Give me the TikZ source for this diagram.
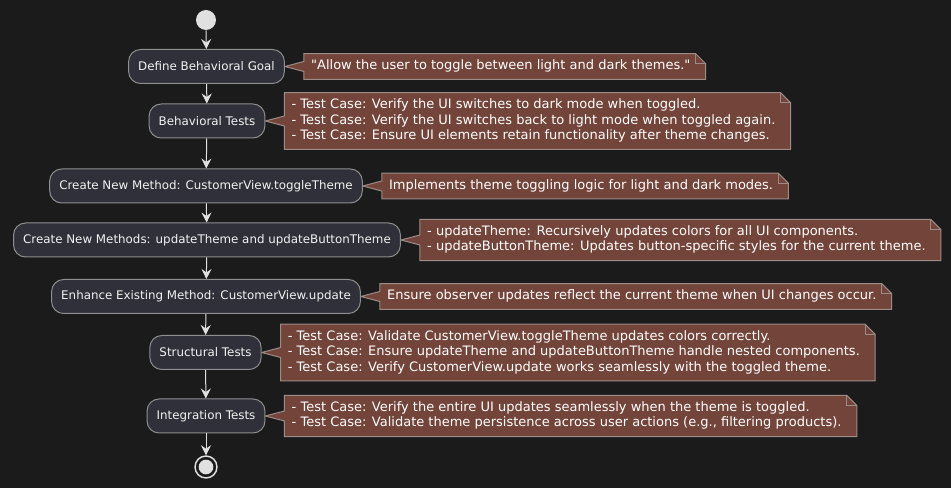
\documentclass[tikz,border=0pt]{standalone}
\usepackage{fontspec}
\setmainfont{DejaVu Sans}[Ligatures=TeXOff]
\usetikzlibrary{arrows.meta,calc}
\definecolor{bgc}{HTML}{1B1B1C}
\definecolor{actfill}{HTML}{2F3039}
\definecolor{actline}{HTML}{8F8F8F}
\definecolor{notefill}{HTML}{73443A}
\definecolor{noteline}{HTML}{9C8C88}
\definecolor{txt}{HTML}{F2F2F2}
\definecolor{flow}{HTML}{E0E0E0}
\pgfdeclarelayer{back}
\pgfdeclarelayer{notes}
\pgfsetlayers{back,notes,main}
\newcommand\drawnote[2]{%
  \begin{pgfonlayer}{notes}
  \coordinate (#1ne) at ($(#1.north east)+(8,0)$);
  \coordinate (#1se) at ($(#1.south east)+(8,0)$);
  \path[notebody] (#1.north west) -- ($(#1ne)+(-10,0)$) -- ($(#1ne)+(0,10)$) -- (#1se) -- (#1.south west)
     -- ($(#1.west |- #2.east)+(0,5)$) -- (#2.east) -- ($(#1.west |- #2.east)+(0,-5)$) -- cycle;
  \draw[draw=noteline, line width=0.75pt] ($(#1ne)+(-10,0)$) -- ($(#1ne)+(-10,10)$) -- ($(#1ne)+(0,10)$);
  \end{pgfonlayer}}
\begin{document}
\begin{tikzpicture}[x=0.75pt,y=-0.75pt,
  act/.style={draw=actline, line width=0.75pt, fill=actfill, rounded corners=9pt, text=txt,
    font=\fontsize{8.9}{11}\selectfont, minimum height=25.5pt, inner xsep=7.2pt, inner ysep=0pt},
  notetext/.style={anchor=west, text=white, font=\fontsize{9.75}{11.6}\selectfont, align=left,
    inner xsep=5.25pt, inner ysep=3.6pt},
  notebody/.style={fill=notefill, draw=noteline, line width=0.75pt},
  flowarrow/.style={draw=flow, line width=0.75pt, -{Stealth[length=7.5pt,width=7.5pt,inset=2.6pt]}},
]
\begin{pgfonlayer}{back}
\fill[bgc] (0,0) rectangle (951,488);
\end{pgfonlayer}
\useasboundingbox (0,0) rectangle (951,488);

\node[circle, fill=flow, minimum size=15pt, inner sep=0pt] (start) at (206,20) {};

\node[act] (a1) at (206.5,66.5) {Define Behavioral Goal};
\node[act] (a2) at (207,121) {Behavioral Tests};
\node[act] (a3) at (206,186) {Create New Method: CustomerView.toggleTheme};
\node[act] (a4) at (207,240) {Create New Methods: updateTheme and updateButtonTheme};
\node[act] (a5) at (206,296.5) {Enhance Existing Method: CustomerView.update};
\node[act] (a6) at (205.5,352.5) {Structural Tests};
\node[act] (a7) at (206,416) {Integration Tests};

\node[circle, draw=flow, line width=1.1pt, minimum size=16.5pt, inner sep=0pt] (stop) at (206,467) {};
\node[circle, fill=flow, minimum size=11pt, inner sep=0pt] (stopdot) at (stop.center) {};

\node[notetext] (n1) at ($(a1.east)+(19,0)$) {\strut"Allow the user to toggle between light and dark themes."};
\node[notetext] (n2) at ($(a2.east)+(19,0)$) {\strut- Test Case: Verify the UI switches to dark mode when toggled.\\\strut- Test Case: Verify the UI switches back to light mode when toggled again.\\\strut- Test Case: Ensure UI elements retain functionality after theme changes.};
\node[notetext] (n3) at ($(a3.east)+(19,0)$) {\strut Implements theme toggling logic for light and dark modes.};
\node[notetext] (n4) at ($(a4.east)+(19,0)$) {\strut- updateTheme: Recursively updates colors for all UI components.\\\strut- updateButtonTheme: Updates button-specific styles for the current theme.};
\node[notetext] (n5) at ($(a5.east)+(19,0)$) {\strut Ensure observer updates reflect the current theme when UI changes occur.};
\node[notetext] (n6) at ($(a6.east)+(19,0)$) {\strut- Test Case: Validate CustomerView.toggleTheme updates colors correctly.\\\strut- Test Case: Ensure updateTheme and updateButtonTheme handle nested components.\\\strut- Test Case: Verify CustomerView.update works seamlessly with the toggled theme.};
\node[notetext] (n7) at ($(a7.east)+(19,0)$) {\strut- Test Case: Verify the entire UI updates seamlessly when the theme is toggled.\\\strut- Test Case: Validate theme persistence across user actions (e.g., filtering products).};

\drawnote{n1}{a1}
\drawnote{n2}{a2}
\drawnote{n3}{a3}
\drawnote{n4}{a4}
\drawnote{n5}{a5}
\drawnote{n6}{a6}
\drawnote{n7}{a7}

\draw[flowarrow] (start) -- (a1);
\draw[flowarrow] (a1) -- (a2);
\draw[flowarrow] (a2) -- (a3);
\draw[flowarrow] (a3) -- (a4);
\draw[flowarrow] (a4) -- (a5);
\draw[flowarrow] (a5) -- (a6);
\draw[flowarrow] (a6) -- (a7);
\draw[flowarrow] (a7) -- (stop);
\end{tikzpicture}
\end{document}
